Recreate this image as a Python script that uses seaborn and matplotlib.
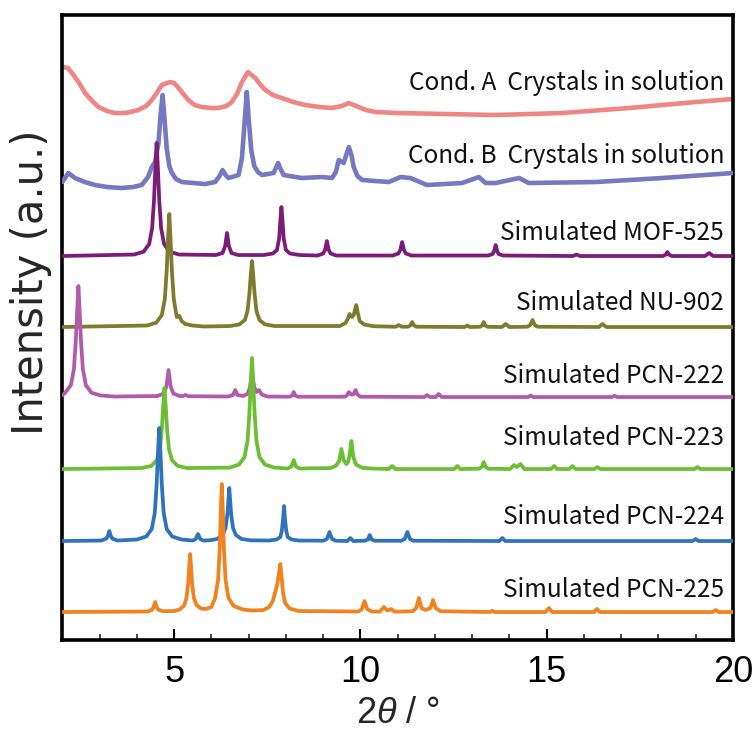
import matplotlib
matplotlib.use("Agg")
import matplotlib.pyplot as plt
from matplotlib.ticker import MultipleLocator
import seaborn as sns
import pandas as pd

# ---------------- data ----------------
series_names = [
    "Cond. A  Crystals in solution",
    "Cond. B  Crystals in solution",
    "Simulated MOF-525",
    "Simulated NU-902",
    "Simulated PCN-222",
    "Simulated PCN-223",
    "Simulated PCN-224",
    "Simulated PCN-225",
]

# stacking offsets of each pattern (a.u.)
offsets = [525, 452, 384, 313, 243, 171, 99, 28]

x_condA = [2.0, 2.15, 2.3, 2.45, 2.61, 2.8, 2.97, 3.2, 3.41, 3.7, 4.04, 4.25, 4.4, 4.55, 4.67, 4.89,
           5.0, 5.12, 5.25, 5.38, 5.55, 5.74, 6.0, 6.19, 6.4, 6.55, 6.7,
           6.82, 6.98, 7.18, 7.3, 7.45, 7.65, 7.89, 8.2, 8.52, 8.9, 9.24, 9.5, 9.69, 9.95, 10.15,
           10.4, 11.0, 12.3, 13.63, 15.42, 17.21, 19.0, 20.0]
y_condA = [48, 47, 40, 32, 22, 14, 8, 4, 2, 2, 5, 9, 15, 23, 30, 33,
           32, 27, 21, 15, 10, 8, 7, 7, 9, 13, 22,
           33, 43, 37, 31, 25, 20, 17, 13, 10, 8, 7, 9, 12, 8, 5,
           3, 2, 1, 0, 2, 7, 13, 16]

x_condB = [2.0, 2.16, 2.34, 2.6, 2.88, 3.2, 3.59, 3.9, 4.13, 4.3, 4.4, 4.49, 4.58, 4.64, 4.69, 4.74,
           4.8, 4.87, 4.94, 5.05, 5.21, 5.83, 6.1, 6.22, 6.3, 6.38, 6.46, 6.73, 6.82, 6.88, 6.95, 7.01,
           7.07, 7.15, 7.25, 7.36, 7.67, 7.79, 7.87, 7.94, 8.43, 8.97, 9.24, 9.34, 9.42, 9.55, 9.69,
           9.76, 9.82, 9.92, 10.05, 10.76, 11.08, 11.34, 11.79, 12.73,
           13.18, 13.36, 13.63, 14.26, 14.52, 16.32, 18.11, 20.0]
y_condB = [6, 15, 10, 6, 3, 1, 0, 1, 3, 11, 21, 26, 45, 75, 93, 70,
           40, 22, 15, 9, 6, 4, 6, 12, 18, 13, 10, 13, 30, 60, 96, 65,
           38, 22, 16, 13, 15, 25, 18, 13, 10, 11, 10, 16, 28, 25, 41,
           33, 21, 12, 8, 6, 11, 10, 3, 5,
           11, 5, 5, 10, 5, 6, 10, 15]

x_mof525 = [2.0, 3.93, 4.18, 4.33, 4.41, 4.46, 4.495, 4.53, 4.565, 4.6, 4.65, 4.73, 4.88, 5.13,
            6.12, 6.3, 6.37, 6.42, 6.47, 6.54, 6.72,
            7.4, 7.65, 7.76, 7.82, 7.85, 7.88, 7.91, 7.94, 8.0, 8.11, 8.36,
            8.85, 9.0, 9.05, 9.1, 9.15, 9.2, 9.35,
            10.87, 11.02, 11.07, 11.12, 11.17, 11.22, 11.37,
            13.43, 13.55, 13.59, 13.63, 13.67, 13.71, 13.83,
            15.7, 15.8, 15.9, 18.12, 18.2, 18.24, 18.28, 18.36, 19.25, 19.36, 19.47, 20.0]
y_mof525 = [0, 1.5, 4.3, 12, 28, 56, 87, 113, 87, 56, 28, 12, 4.3, 1.5,
            1, 3, 10, 23, 10, 3, 1,
            1, 2.5, 6, 18, 35, 49, 35, 18, 6, 2.5, 1,
            0.5, 2.5, 6, 15, 6, 2.5, 0.5,
            0.5, 2.5, 6, 14, 6, 2.5, 0.5,
            0.5, 2, 5, 11, 5, 2, 0.5,
            0, 1.5, 0, 0, 1.5, 4, 1.5, 0, 0, 3, 0, 0]

x_nu902 = [2.0, 4.27, 4.52, 4.67, 4.75, 4.8, 4.835, 4.87, 4.905, 4.94, 4.99, 5.07, 5.14, 5.2, 5.3,
           5.5, 5.8,
           6.5, 6.75, 6.9, 6.97, 7.02, 7.055, 7.09, 7.125, 7.16, 7.21, 7.29, 7.44, 7.7,
           9.45, 9.6, 9.66, 9.71, 9.77, 9.82, 9.86, 9.89, 9.93, 9.98, 10.1, 10.35,
           10.95, 11.03, 11.11, 11.27, 11.34, 11.39, 11.44, 11.51,
           12.8, 12.87, 12.94, 13.2, 13.27, 13.31, 13.35, 13.42, 13.8, 13.9, 14.0,
           14.48, 14.56, 14.62, 14.68, 14.76, 16.4, 16.5, 16.6, 20.0]
y_nu902 = [0, 1.5, 4.3, 12, 28, 56, 87, 113, 87, 56, 28, 10, 11, 6, 3,
           1.5, 0.5,
           1, 2.6, 7, 16, 33, 51, 66, 51, 33, 16, 7, 2.6, 1,
           1, 4, 8, 13, 10, 12, 18, 22, 14, 6, 2.5, 0.8,
           0.3, 2, 0.3, 0.3, 1.5, 5, 1.5, 0.3,
           0, 1.5, 0, 0.2, 1.5, 5, 1.5, 0.2, 0, 3, 0,
           0.3, 2, 7, 2, 0.3, 0, 3, 0, 0]

x_pcn222 = [2.0, 2.08, 2.23, 2.31, 2.36, 2.395, 2.43, 2.465, 2.5, 2.55, 2.63, 2.78, 3.03, 3.4,
            4.55, 4.72, 4.79, 4.85, 4.91, 4.98, 5.15, 5.22, 5.3, 5.38,
            6.45, 6.58, 6.64, 6.7, 6.85, 6.97, 7.03, 7.09, 7.15, 7.21, 7.28, 7.35, 7.5,
            8.1, 8.17, 8.21, 8.25, 8.32,
            9.58, 9.65, 9.69, 9.76, 9.82, 9.87, 9.92, 10.0,
            11.72, 11.79, 11.86, 12.02, 12.1, 12.18, 14.5, 14.57, 14.64, 16.75, 16.82, 16.9, 20.0]
y_pcn222 = [1.8, 4.5, 12, 28, 56, 85, 111, 85, 56, 28, 12, 4.3, 1.5, 0.5,
            1, 3.5, 10, 27, 10, 3.5, 1, 0.8, 2, 0.8,
            0.5, 2, 7, 2, 1, 3, 9, 24, 10, 5, 7, 2.5, 0.5,
            0.3, 1.5, 5, 1.5, 0.3,
            0.3, 2, 5, 2.5, 3, 7, 2.5, 0.3,
            0, 2, 0, 0, 3, 0, 0, 1.5, 0, 0, 1.2, 0, 0]

x_pcn223 = [2.0, 4.14, 4.39, 4.54, 4.62, 4.67, 4.705, 4.74, 4.775, 4.81, 4.86, 4.94, 5.09, 5.34,
            6.49, 6.74, 6.89, 6.97, 7.02, 7.055, 7.09, 7.125, 7.16, 7.21, 7.29, 7.44, 7.69,
            8.05, 8.15, 8.21, 8.27, 8.37,
            9.2, 9.35, 9.43, 9.49, 9.55, 9.62, 9.67, 9.71, 9.76, 9.81, 9.88, 10.05, 10.3,
            10.76, 10.85, 10.94, 12.52, 12.6, 12.68,
            13.18, 13.26, 13.31, 13.36, 13.44, 14.02, 14.12, 14.2, 14.3, 14.4,
            15.12, 15.2, 15.28, 15.61, 15.69, 15.77, 16.28, 16.36, 16.44, 18.97, 19.05, 19.13, 20.0]
y_pcn223 = [0, 1, 3.2, 9, 20, 40, 62, 81, 62, 40, 20, 9, 3.2, 1,
            1.4, 4.4, 12, 28, 56, 85, 111, 85, 56, 28, 12, 4.4, 1.4,
            0.5, 2.5, 9, 2.5, 0.5,
            1, 3.5, 8, 20, 9, 5, 7, 14, 28, 12, 4.5, 1.2, 0.5,
            0, 3, 0, 0, 3, 0,
            0.3, 2, 7, 2, 0.3, 0, 4, 2, 5, 0,
            0, 3, 0, 0, 3, 0, 0, 2, 0, 0, 2, 0, 0]

x_pcn224 = [2.0, 3.05, 3.18, 3.22, 3.26, 3.3, 3.34, 3.47,
            4.0, 4.25, 4.4, 4.48, 4.53, 4.565, 4.6, 4.635, 4.67, 4.72, 4.8, 4.95, 5.2,
            5.5, 5.58, 5.64, 5.7, 5.78,
            5.95, 6.15, 6.3, 6.38, 6.43, 6.455, 6.48, 6.505, 6.53, 6.58, 6.66, 6.81, 7.06,
            7.55, 7.75, 7.85, 7.89, 7.925, 7.95, 7.975, 8.01, 8.05, 8.15, 8.35,
            9.0, 9.1, 9.17, 9.24, 9.34, 9.65, 9.73, 9.81,
            10.12, 10.2, 10.25, 10.3, 10.38, 11.1, 11.19, 11.26, 11.33, 11.42,
            13.73, 13.81, 13.89, 18.92, 19.0, 19.08, 20.0]
y_pcn224 = [0, 0.5, 2.5, 5, 10, 5, 2.5, 0.5,
            1.5, 4.5, 12, 28, 56, 87, 113, 87, 56, 28, 12, 4.5, 1.5,
            0.5, 2, 7, 2, 0.5,
            0.7, 2, 6, 13, 27, 40, 53, 40, 27, 13, 6, 2, 0.7,
            0.5, 1.5, 4, 10, 22, 35, 22, 10, 4, 1.5, 0.5,
            0.3, 2, 9, 2, 0.3, 0, 3, 0,
            0.3, 1.5, 6, 1.5, 0.3, 0.3, 2, 9, 2, 0.3,
            0, 3, 0, 0, 2, 0, 0]

x_pcn225 = [2.0, 4.3, 4.41, 4.45, 4.49, 4.53, 4.57, 4.7,
            5.0, 5.15, 5.27, 5.33, 5.38, 5.405, 5.43, 5.455, 5.48, 5.53, 5.6, 5.72,
            5.85, 6.0, 6.1, 6.18, 6.225, 6.25, 6.28, 6.31, 6.335, 6.38, 6.46, 6.6, 6.85, 7.1,
            7.4, 7.55, 7.65, 7.72, 7.77, 7.81, 7.85, 7.88, 7.92, 7.98, 8.1, 8.35,
            9.95, 10.04, 10.11, 10.18, 10.3, 10.52, 10.63, 10.72, 10.83, 10.92,
            11.4, 11.5, 11.57, 11.64, 11.75, 11.88, 11.95, 12.02, 12.15,
            13.47, 13.54, 13.61, 14.97, 15.06, 15.15, 16.27, 16.35, 16.43, 19.46, 19.54, 19.62, 20.0]
y_pcn225 = [0, 0.5, 2.5, 5, 10, 5, 2.5, 0.8,
            1, 2.5, 6.5, 14, 29, 45, 58, 45, 29, 14, 7, 3.5,
            3, 5, 14, 32, 64, 98, 128, 98, 64, 32, 14, 6, 2.5, 1.5,
            2, 5, 11, 21, 28, 38, 48, 37, 20, 9, 3.5, 1,
            0.5, 3, 11, 3, 0.5, 0.3, 5, 1.5, 3, 0.3,
            0.8, 4, 14, 4, 2, 4, 12, 4, 0.8,
            0, 1.2, 0, 0, 4, 0, 0, 3, 0, 0, 2, 0, 0]

colors = ["#EF8683", "#7479C2", "#7A1C78", "#7E7B2D", "#B25BAA", "#6CBE32", "#2F74BA", "#F0821F"]

# ---------------- build table ----------------
xs = [x_condA, x_condB, x_mof525, x_nu902, x_pcn222, x_pcn223, x_pcn224, x_pcn225]
ys = [y_condA, y_condB, y_mof525, y_nu902, y_pcn222, y_pcn223, y_pcn224, y_pcn225]
frames = []
for name, xv, yv, off in zip(series_names, xs, ys, offsets):
    frames.append(pd.DataFrame({"two_theta": xv,
                                "intensity": [v + off for v in yv],
                                "pattern": name}))
df = pd.concat(frames, ignore_index=True)

# ---------------- figure ----------------
sns.set_style("white")
plt.rcParams["font.family"] = ["Liberation Sans", "DejaVu Sans"]
plt.rcParams["mathtext.fontset"] = "custom"
plt.rcParams["mathtext.rm"] = "Liberation Sans"
plt.rcParams["mathtext.it"] = "Liberation Sans:italic"

fig = plt.figure(figsize=(7.56, 7.36), dpi=100)
ax = fig.add_axes([0.0825, 0.1304, 0.887, 0.8492])

label_gap = [32, 32, 23, 24, 21, 31, 24, 22]
for i, name in enumerate(series_names):
    sub = df[df["pattern"] == name]
    lw = 3.3 if i < 2 else 2.7
    sns.lineplot(data=sub, x="two_theta", y="intensity", ax=ax, color=colors[i],
                 lw=lw, sort=False, estimator=None, legend=False,
                 solid_joinstyle="round", solid_capstyle="round", zorder=2 + i)
    ax.text(19.76, offsets[i] + label_gap[i], name, ha="right", va="center",
            fontsize=17.6, family=["Noto Sans CJK JP", "DejaVu Sans"], color="#111111",
            zorder=20)

ax.set_xlim(2, 20)
ax.set_ylim(0, 625)
ax.set_yticks([])
ax.xaxis.set_major_locator(MultipleLocator(5))
ax.xaxis.set_minor_locator(MultipleLocator(1))
ax.tick_params(axis="x", which="major", direction="in", length=8, width=1.5,
               labelsize=26, pad=11, colors="black")
ax.tick_params(axis="x", which="minor", direction="in", length=4, width=1.2)
ax.tick_params(axis="x", which="both", top=False, bottom=True)
for sp in ax.spines.values():
    sp.set_visible(True)
    sp.set_linewidth(2.6)
    sp.set_color("black")

ax.set_xlabel(r"2$\mathit{\theta}$ / °", fontsize=26, labelpad=4)
ax.set_ylabel("Intensity (a.u.)", fontsize=30, family=["DejaVu Sans"])
ax.yaxis.set_label_coords(-0.015, 0.573)

fig.savefig("out.png", dpi=100)
